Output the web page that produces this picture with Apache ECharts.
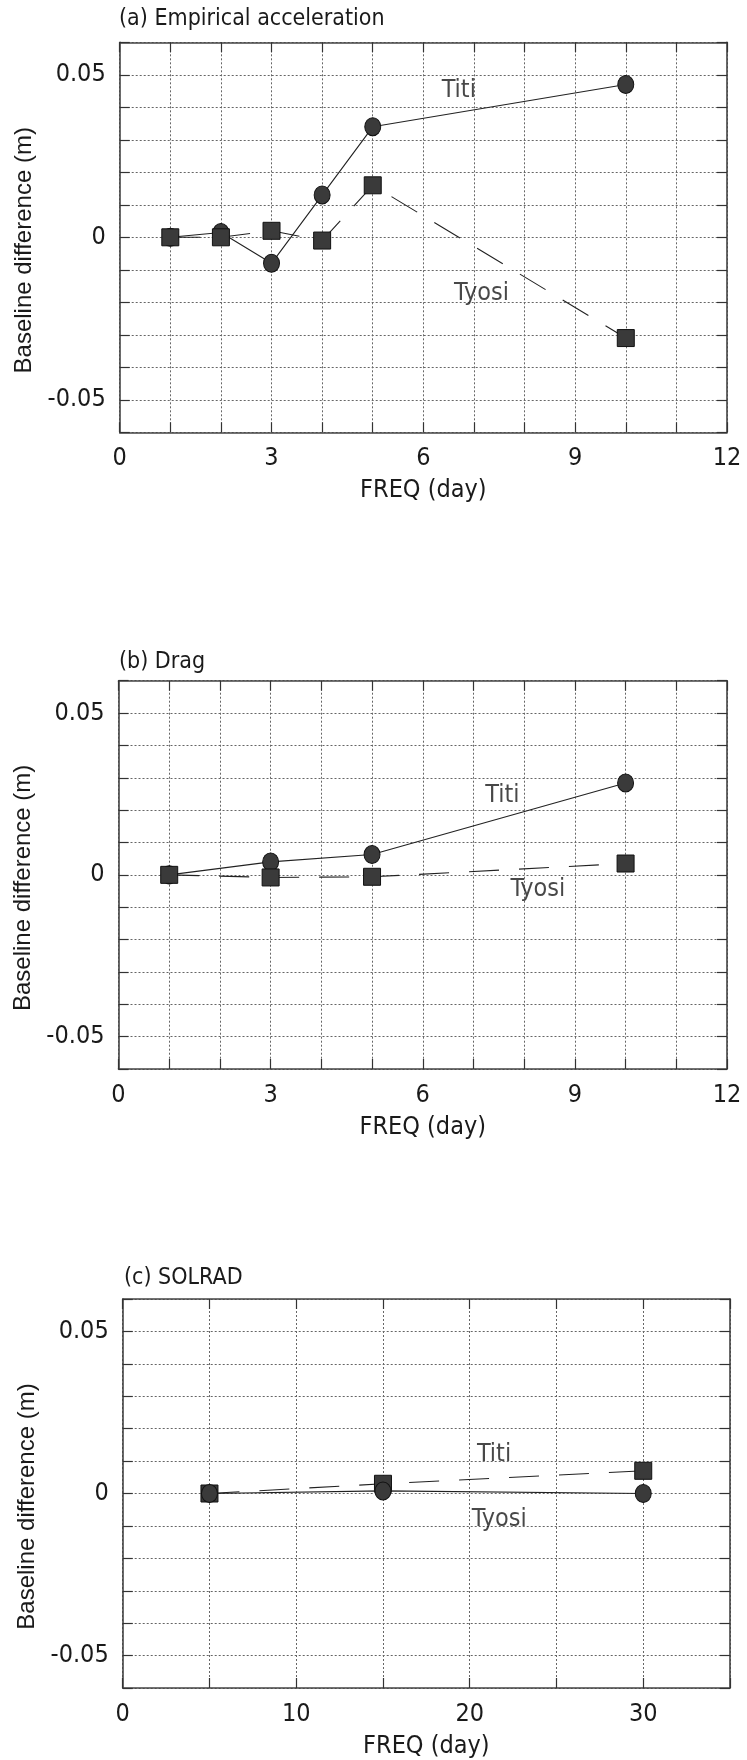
<!DOCTYPE html>
<html>
<head>
<meta charset="utf-8">
<script src="https://cdn.jsdelivr.net/npm/echarts@6/dist/echarts.min.js"></script>
<style>
html,body{margin:0;padding:0;background:#fff;}
#chart{width:747px;height:1760px;}
</style>
</head>
<body>
<div id="chart"></div>
<script>
// ---------- data ----------
const panelTitles = ['(a) Empirical acceleration', '(b) Drag', '(c) SOLRAD'];
const xAxisName = 'FREQ (day)';
const yAxisName = 'Baseline difference (m)';

// (a) Empirical acceleration
const freqA  = [1, 2, 3, 4, 5, 10];
const titiA  = [0, 0.0015, -0.008, 0.013, 0.034, 0.047];   // circles, solid
const tyosiA = [0, 0, 0.002, -0.001, 0.016, -0.031];       // squares, dashed

// (b) Drag
const freqB  = [1, 3, 5, 10];
const titiB  = [0, 0.004, 0.0063, 0.0284];                 // circles, solid
const tyosiB = [0, -0.0008, -0.0006, 0.0035];              // squares, dashed

// (c) SOLRAD
const freqC   = [5, 15, 30];
const circleC = [0, 0.0008, 0];                            // circles, solid
const squareC = [0, 0.003, 0.007];                         // squares, dashed

// axis ranges / tick labels
const yMin = -0.06, yMax = 0.06, yStep = 0.01;
const yTickLabels = [-0.05, 0, 0.05];
const xRangeAB = [0, 12], xStepAB = 1, xLabelsAB = [0, 3, 6, 9, 12];
const xRangeC  = [0, 35], xStepC  = 5, xLabelsC  = [0, 10, 20, 30];

// annotation anchors in data coordinates [x, y]
const notesA = [['Titi', 6.7, 0.0452], ['Tyosi', 7.15, -0.0172]];
const notesB = [['Titi', 7.57, 0.0245], ['Tyosi', 8.27, -0.0046]];
const notesC = [['Titi', 21.4, 0.0121], ['Tyosi', 21.7, -0.0080]];

// ---------- styling ----------
const FONT = "'Liberation Sans Narrow','DejaVu Sans Condensed','Noto Sans',sans-serif";
const FONT_NAME = "'Liberation Sans','DejaVu Sans',sans-serif";
const INK = '#1a1a1a';
const MARK_FILL = '#3a3a3a';

const grids = [
  {left: 119.7, top: 42.3, width: 607.3, height: 390},
  {left: 118.5, top: 680.7, width: 608.5, height: 388.3},
  {left: 122.7, top: 1299, width: 607.3, height: 389.3}
];
const titlePos = [
  {left: 119, top: 8},
  {left: 119, top: 651},
  {left: 124, top: 1267}
];

function near(a, b){ return Math.abs(a - b) < 1e-6; }

const option = {
  animation: false,
  backgroundColor: '#fff',
  title: panelTitles.map((t, i) => ({
    text: t, left: titlePos[i].left, top: titlePos[i].top, padding: 0,
    textStyle: {fontFamily: FONT, fontSize: 23, fontWeight: 'normal', color: INK}
  })),
  grid: grids.map(g => Object.assign({show: false, containLabel: false}, g)),
  xAxis: [],
  yAxis: [],
  series: []
};

const xSpecs = [
  {range: xRangeAB, step: xStepAB, labels: xLabelsAB},
  {range: xRangeAB, step: xStepAB, labels: xLabelsAB},
  {range: xRangeC,  step: xStepC,  labels: xLabelsC}
];

const tickStyle = {show: true, inside: true, length: 10, lineStyle: {color: '#333', width: 1.2}};
const axisLineStyle = {show: true, onZero: false, lineStyle: {color: '#444', width: 1.6}};
const splitStyle = {show: true, lineStyle: {color: '#666', width: 1, type: [2, 2]}};

for (let i = 0; i < 3; i++) {
  const xs = xSpecs[i];
  // bottom x axis
  option.xAxis.push({
    type: 'value', gridIndex: i, position: 'bottom',
    min: xs.range[0], max: xs.range[1], interval: xs.step,
    name: xAxisName, nameLocation: 'middle', nameGap: 46,
    nameTextStyle: {fontFamily: FONT, fontSize: 25, color: INK},
    axisLine: axisLineStyle, axisTick: tickStyle, splitLine: splitStyle,
    axisLabel: {
      margin: 14, fontFamily: FONT, fontSize: 25, color: INK,
      showMinLabel: true, showMaxLabel: true,
      formatter: v => xs.labels.some(l => near(l, v)) ? String(Math.round(v)) : ''
    }
  });
  // top x axis (frame + ticks)
  option.xAxis.push({
    type: 'value', gridIndex: i, position: 'top',
    min: xs.range[0], max: xs.range[1], interval: xs.step,
    axisLine: axisLineStyle, axisTick: tickStyle, splitLine: {show: false},
    axisLabel: {show: false}
  });
  // left y axis
  option.yAxis.push({
    type: 'value', gridIndex: i, position: 'left',
    min: yMin, max: yMax, interval: yStep,
    name: yAxisName, nameLocation: 'middle', nameGap: 82, nameRotate: 90,
    nameTextStyle: {fontFamily: FONT_NAME, fontSize: 24, color: INK, padding: [0, 26, 0, 0]},
    axisLine: axisLineStyle, axisTick: tickStyle, splitLine: splitStyle,
    axisLabel: {
      margin: 14, fontFamily: FONT, fontSize: 25, color: INK,
      showMinLabel: true, showMaxLabel: true,
      formatter: v => {
        for (const l of yTickLabels) if (near(l, v)) return l === 0 ? '0' : String(l);
        return '';
      }
    }
  });
  // right y axis (frame + ticks)
  option.yAxis.push({
    type: 'value', gridIndex: i, position: 'right',
    min: yMin, max: yMax, interval: yStep,
    axisLine: axisLineStyle, axisTick: tickStyle, splitLine: {show: false},
    axisLabel: {show: false}
  });
}

function pairs(xs, ys){ return xs.map((x, k) => [x, ys[k]]); }

function lineSeries(name, panel, xs, ys, symbol, dashed, z) {
  return {
    name: name, type: 'line',
    xAxisIndex: panel * 2, yAxisIndex: panel * 2,
    data: pairs(xs, ys),
    symbol: symbol,
    symbolSize: symbol === 'circle' ? [16, 18] : 17,
    showAllSymbol: true,
    lineStyle: {color: '#222', width: 1.1, type: dashed ? [30, 20] : 'solid'},
    itemStyle: {color: MARK_FILL, borderColor: '#111', borderWidth: 1},
    z: z
  };
}

function noteSeries(panel, notes) {
  return {
    type: 'scatter', xAxisIndex: panel * 2, yAxisIndex: panel * 2,
    symbolSize: 1, itemStyle: {color: 'rgba(0,0,0,0)'},
    data: notes.map(n => ({name: n[0], value: [n[1], n[2]]})),
    label: {
      show: true, position: 'inside', formatter: p => p.name,
      fontFamily: FONT, fontSize: 25, color: INK
    },
    silent: true, z: 5
  };
}

option.series.push(
  lineSeries('Titi',  0, freqA, titiA,  'circle', false, 2),
  lineSeries('Tyosi', 0, freqA, tyosiA, 'rect',   true,  3),
  noteSeries(0, notesA),
  lineSeries('Titi',  1, freqB, titiB,  'circle', false, 2),
  lineSeries('Tyosi', 1, freqB, tyosiB, 'rect',   true,  3),
  noteSeries(1, notesB),
  lineSeries('Tyosi', 2, freqC, circleC, 'circle', false, 3),
  lineSeries('Titi',  2, freqC, squareC, 'rect',   true,  2),
  noteSeries(2, notesC)
);

const chart = echarts.init(document.getElementById('chart'), null, {renderer: 'canvas'});
chart.setOption(option);
</script>
</body>
</html>
